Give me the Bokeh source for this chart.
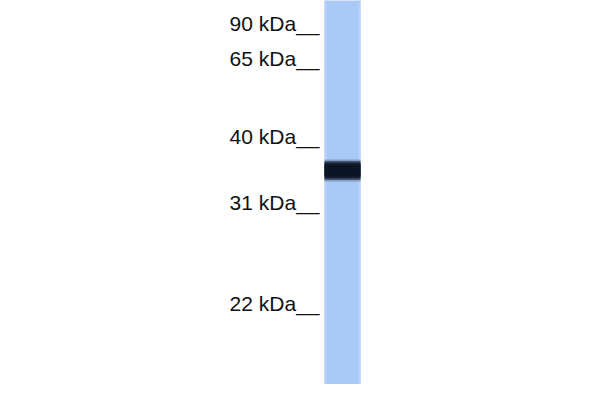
from bokeh.plotting import figure
from bokeh.models import Range1d, ColumnDataSource
from bokeh.core.properties import value
from bokeh.embed import file_html
from bokeh.resources import INLINE

# Molecular weight markers (kDa) and their migration (px from top of blot)
marker_labels = ["90 kDa", "65 kDa", "40 kDa", "31 kDa", "22 kDa"]
marker_mw = [90, 65, 40, 31, 22]
marker_migration = [33, 68, 146, 212, 313]

# Single sample lane with one detected band (~36 kDa)
lane_names = ["Sample"]
band_migration = [171]
band_thickness = [18]

LANE_LEFT, LANE_RIGHT = 325, 361
LANE_TOP, LANE_BOTTOM = 0, 395

p = figure(width=584, height=384, output_backend="svg", toolbar_location=None,
           x_range=Range1d(1, 585), y_range=Range1d(385, 1),
           min_border=0, background_fill_color="white", border_fill_color="white")
p.axis.visible = False
p.grid.visible = False
p.outline_line_color = None

# lane
p.quad(left=[LANE_LEFT], right=[LANE_RIGHT], top=[LANE_TOP], bottom=[LANE_BOTTOM],
       fill_color="#a9c9f6", line_color=None)
# subtle lighter edges
p.quad(left=[LANE_LEFT], right=[LANE_LEFT + 2], top=[LANE_TOP], bottom=[LANE_BOTTOM],
       fill_color="#b6d2f8", line_color=None)
p.quad(left=[LANE_RIGHT - 2], right=[LANE_RIGHT], top=[LANE_TOP], bottom=[LANE_BOTTOM],
       fill_color="#b6d2f8", line_color=None)

# band with soft edges
for bm, bt in zip(band_migration, band_thickness):
    for grow, alpha in [(3, 0.25), (1.5, 0.5), (0, 0.8), (-2, 1.0)]:
        half = bt / 2 + grow - 1
        p.quad(left=[LANE_LEFT], right=[LANE_RIGHT], top=[bm - half], bottom=[bm + half],
               fill_color="#0c1524", fill_alpha=alpha, line_color=None)

# marker labels with underscores
src = ColumnDataSource(dict(
    x=[320] * len(marker_labels),
    y=[m - 9 for m in marker_migration],
    t=[lab + "__" for lab in marker_labels],
))
p.text(x="x", y="y", text="t", source=src, text_align="right", text_baseline="alphabetic",
       text_font=value("Liberation Sans"), text_font_size="21px", text_color="#111111")

open("out.html", "w").write(file_html(p, INLINE))
